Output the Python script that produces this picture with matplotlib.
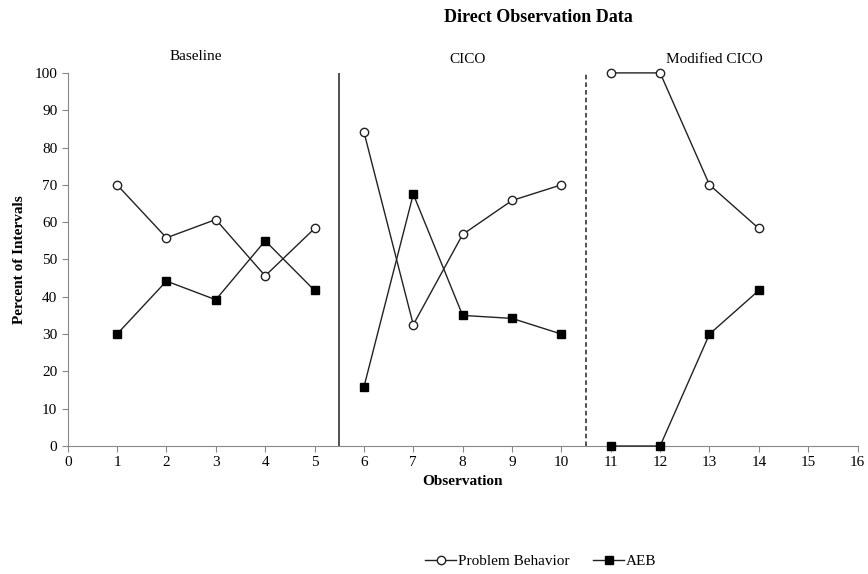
import matplotlib
matplotlib.use("Agg")
import matplotlib.pyplot as plt

observations = list(range(1, 15))
problem_behavior = [70, 55.8, 60.7, 45.6, 58.3, 84.2, 32.5, 56.7, 65.8, 70, 100, 100, 70, 58.3]
aeb = [30, 44.2, 39.2, 55, 41.7, 15.8, 67.5, 35, 34.2, 30, 0, 0, 30, 41.7]
phases = [(1, 5, "Baseline"), (6, 10, "CICO"), (11, 14, "Modified CICO")]
phase_lines = [(5.5, "-"), (10.5, "--")]

plt.rcParams["font.family"] = ["Liberation Serif", "DejaVu Serif"]

fig = plt.figure(figsize=(8.68, 5.74), dpi=100)
ax = fig.add_axes([0.078, 0.223, 0.91, 0.650])

pb_handle = aeb_handle = None
for start, end, name in phases:
    idx = [i for i, x in enumerate(observations) if start <= x <= end]
    xs = [observations[i] for i in idx]
    l1, = ax.plot(xs, [problem_behavior[i] for i in idx], color="#222222", lw=1,
                  marker="o", ms=6, mfc="white", mec="#222222", mew=1, clip_on=False, zorder=3)
    l2, = ax.plot(xs, [aeb[i] for i in idx], color="#222222", lw=1,
                  marker="s", ms=5.3, mfc="black", mec="black", clip_on=False, zorder=3)
    pb_handle, aeb_handle = l1, l2

for x, ls in phase_lines:
    ax.plot([x, x], [0, 100], color="#222222", lw=1.1, ls=ls, dashes=(3, 2) if ls == "--" else (None, None))

label_pos = {"Baseline": (2.6, 104.3), "CICO": (8.1, 103.6), "Modified CICO": (13.1, 103.6)}
for start, end, name in phases:
    lx, ly = label_pos[name]
    ax.text(lx, ly, name, ha="center", va="center", fontsize=11)

ax.set_xlim(0, 16)
ax.set_ylim(0, 100)
ax.set_xticks(range(0, 17))
ax.set_yticks(range(0, 101, 10))
ax.tick_params(labelsize=11, direction="out", length=4, color="#888888")
for side in ["top", "right"]:
    ax.spines[side].set_visible(False)
for side in ["left", "bottom"]:
    ax.spines[side].set_color("#888888")

ax.set_xlabel("Observation", fontsize=11, fontweight="bold", labelpad=4)
ax.set_ylabel("Percent of Intervals", fontsize=11, fontweight="bold", labelpad=6)
fig.text(0.62, 0.970, "Direct Observation Data", ha="center", va="center",
         fontsize=13, fontweight="bold")

fig.legend([pb_handle, aeb_handle], ["Problem Behavior", "AEB"], loc="center",
           bbox_to_anchor=(0.623, 0.022), ncol=2, frameon=False, fontsize=11,
           handlelength=2.0, columnspacing=1.6, handletextpad=0.1)

fig.savefig("out.png", dpi=100)
plt.close(fig)
